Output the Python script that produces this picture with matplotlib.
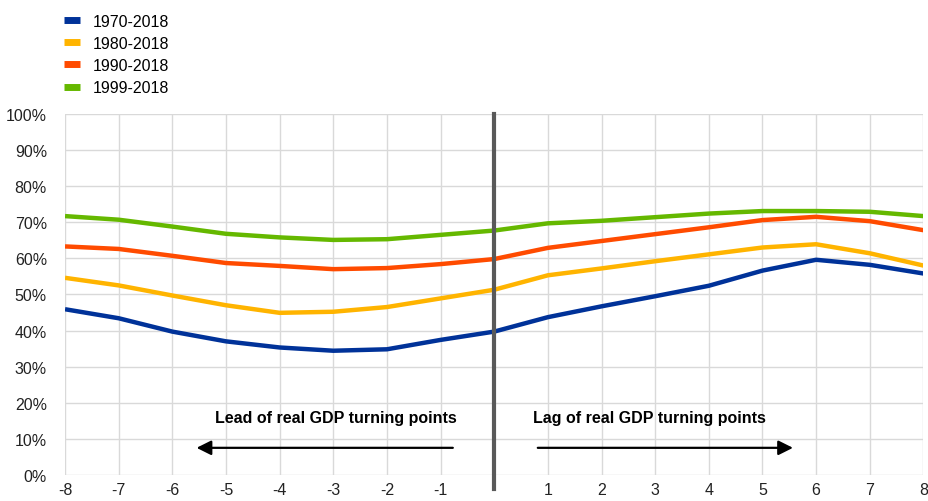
import matplotlib
matplotlib.use("Agg")
import matplotlib.pyplot as plt

plt.rcParams['font.family'] = ['Liberation Sans', 'DejaVu Sans']

# quarters relative to real GDP turning point
lags = list(range(-8, 9))
tick_labels = [str(q) if q != 0 else '' for q in lags]

series_names = ['1970-2018', '1980-2018', '1990-2018', '1999-2018']
s1970 = [45.9, 43.4, 39.7, 37.0, 35.3, 34.4, 34.8, 37.4, 39.7,
         43.7, 46.7, 49.5, 52.4, 56.6, 59.6, 58.2, 55.8]
s1980 = [54.6, 52.5, 49.7, 47.0, 44.9, 45.2, 46.5, 48.9, 51.3,
         55.3, 57.2, 59.2, 61.1, 63.0, 63.9, 61.4, 58.0]
s1990 = [63.3, 62.6, 60.7, 58.7, 57.9, 57.0, 57.3, 58.4, 59.8,
         62.9, 64.8, 66.7, 68.6, 70.6, 71.5, 70.3, 67.8]
s1999 = [71.7, 70.7, 68.8, 66.8, 65.8, 65.1, 65.3, 66.5, 67.7,
         69.7, 70.4, 71.4, 72.4, 73.1, 73.1, 72.9, 71.7]
colors = ['#003299', '#FFB400', '#FF4B00', '#65B800']

fs = 11.5

fig = plt.figure(figsize=(9.29, 5.02), dpi=100)
ax = fig.add_axes([0.070, 0.052, 0.924, 0.719])

for name, vals, c in zip(series_names, [s1970, s1980, s1990, s1999], colors):
    ax.plot(lags, vals, color=c, lw=3.2, label=name, solid_capstyle='butt', zorder=3)

# turning point marker
ax.plot([0, 0], [-4, 100], color='#595959', lw=3, clip_on=False, zorder=4)

ax.set_xlim(-8, 8)
ax.set_ylim(0, 100)
ax.set_xticks(lags)
ax.set_xticklabels(tick_labels)
ax.set_yticks(range(0, 101, 10))
ax.set_yticklabels(['{}%'.format(v) for v in range(0, 101, 10)])
ax.grid(True, color='#D9D9D9', lw=1)
ax.set_axisbelow(True)
for s in ax.spines.values():
    s.set_visible(False)
ax.tick_params(length=0, labelsize=fs, colors='#222222', pad=5)
ax.tick_params(axis='y', pad=13)

# lead / lag annotations
ax.annotate('', xy=(-5.6, 7.5), xytext=(-0.72, 7.5),
            arrowprops=dict(arrowstyle='-|>', color='black', lw=1.6,
                            mutation_scale=22))
ax.annotate('', xy=(5.62, 7.5), xytext=(0.76, 7.5),
            arrowprops=dict(arrowstyle='-|>', color='black', lw=1.6,
                            mutation_scale=22))
ax.text(-5.2, 16, 'Lead of real GDP turning points', fontsize=fs,
        fontweight='bold', ha='left', va='center')
ax.text(0.73, 16, 'Lag of real GDP turning points', fontsize=fs,
        fontweight='bold', ha='left', va='center')

leg = fig.legend(loc='upper left', bbox_to_anchor=(0.069, 0.971), frameon=False,
                 fontsize=fs, handlelength=1.0, handletextpad=0.8,
                 labelspacing=0.45, borderaxespad=0, borderpad=0)
for h in leg.get_lines():
    h.set_linewidth(5)

fig.savefig('out.png', dpi=100)
